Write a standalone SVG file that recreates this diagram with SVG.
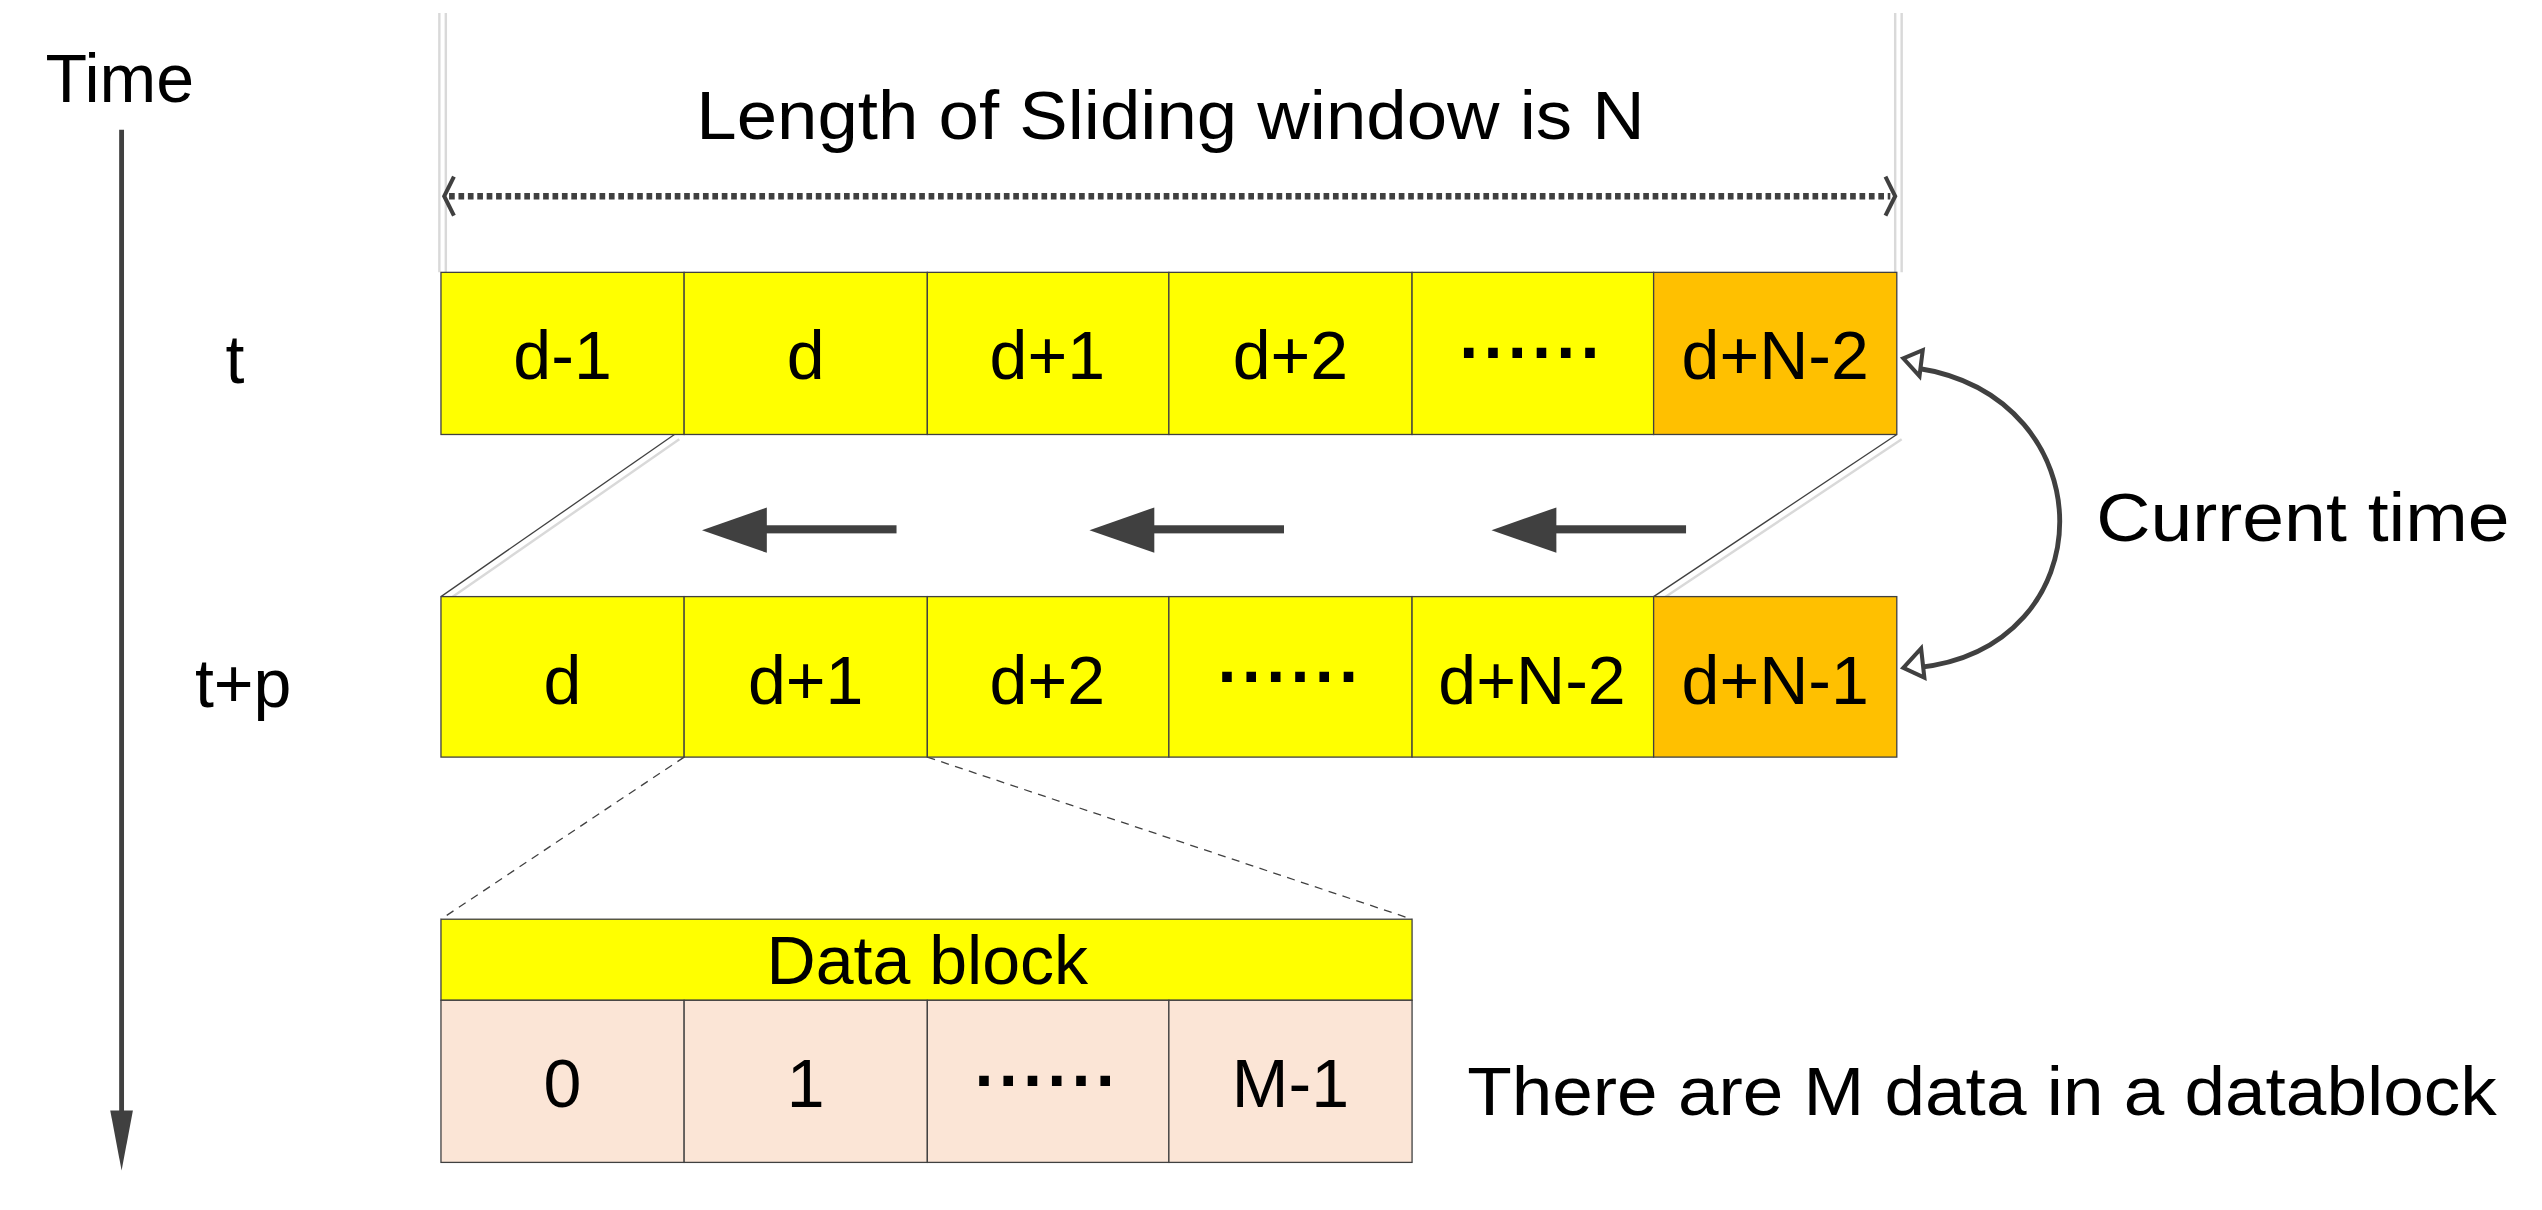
<svg xmlns="http://www.w3.org/2000/svg" width="2542" height="1210" viewBox="0 0 2542 1210">
<style>
text{font-family:"Liberation Sans",Arial,sans-serif;font-size:42px;fill:#000}
.c{text-anchor:middle}
.dots{font-weight:bold;letter-spacing:1px}
.y{fill:#FFFF00;stroke:#404040;stroke-width:0.8}
.o{fill:#FFC000;stroke:#404040;stroke-width:0.8}
.p{fill:#FBE5D6;stroke:#404040;stroke-width:0.8}
.thin{stroke:#404040;stroke-width:0.8;fill:none}
.gray{stroke:#d9d9d9;stroke-width:1.5;fill:none}
</style>
<g transform="scale(1.6212)">
<g id="connectors">
<line x1="75" y1="80" x2="75" y2="690" stroke="#404040" stroke-width="3"/>
<path d="M75,722 L68,685 L82,685 z" fill="#404040"/>
<line class="gray" x1="271" y1="8" x2="271" y2="168"/><line class="gray" x1="275" y1="8" x2="275" y2="168"/>
<line class="gray" x1="1169" y1="8" x2="1169" y2="168"/><line class="gray" x1="1173" y1="8" x2="1173" y2="168"/>
<line x1="277" y1="121" x2="1166" y2="121" stroke="#404040" stroke-width="4" stroke-dasharray="3.5,2.3"/>
<path d="M280,109 L274,121 L280,133" fill="none" stroke="#404040" stroke-width="2.5"/>
<path d="M1163,109 L1169,121 L1163,133" fill="none" stroke="#404040" stroke-width="2.5"/>
<line class="thin" x1="416" y1="268" x2="272" y2="368"/><line class="gray" x1="419" y1="271" x2="275" y2="371"/>
<line class="thin" x1="1170" y1="268" x2="1020" y2="368"/><line class="gray" x1="1173" y1="271" x2="1023" y2="371"/>
<g fill="#404040">
<rect x="470" y="324" width="83" height="5"/><path d="M433,327 L473,313 L473,341 z"/>
<rect x="709" y="324" width="83" height="5"/><path d="M672,327 L712,313 L712,341 z"/>
<rect x="957" y="324" width="83" height="5"/><path d="M920,327 L960,313 L960,341 z"/>
</g>
<path d="M1182,227 C1300,245 1300,400 1182,412" fill="none" stroke="#404040" stroke-width="3"/>
<path d="M1174,221 L1186,216 L1184,232 z" fill="#fff" stroke="#404040" stroke-width="2.5"/>
<path d="M1174,412 L1185,400 L1187,418 z" fill="#fff" stroke="#404040" stroke-width="2.5"/>
<line class="thin" x1="422" y1="467" x2="272" y2="567" stroke-dasharray="5,4"/>
<line class="thin" x1="572" y1="467" x2="871" y2="567" stroke-dasharray="5,4"/>
</g>
<text x="28" y="63">Time</text>
<text class="c" x="145" y="236">t</text>
<text class="c" x="150" y="436">t+p</text>
<text class="c" x="722" y="86" textLength="585" lengthAdjust="spacingAndGlyphs">Length of Sliding window is N</text>
<text x="1293" y="334" textLength="255" lengthAdjust="spacingAndGlyphs">Current time</text>
<text x="905" y="688" textLength="635" lengthAdjust="spacingAndGlyphs">There are M data in a datablock</text>
<g id="row-t">
<rect class="y" x="272" y="168" width="150" height="100"/><text class="c" x="347" y="234">d-1</text>
<rect class="y" x="422" y="168" width="150" height="100"/><text class="c" x="497" y="234">d</text>
<rect class="y" x="572" y="168" width="149" height="100"/><text class="c" x="646" y="234">d+1</text>
<rect class="y" x="721" y="168" width="150" height="100"/><text class="c" x="796" y="234">d+2</text>
<rect class="y" x="871" y="168" width="149" height="100"/><text class="c dots" x="945" y="232">······</text>
<rect class="o" x="1020" y="168" width="150" height="100"/><text class="c" x="1095" y="234">d+N-2</text>
</g>
<g id="row-tp">
<rect class="y" x="272" y="368" width="150" height="99"/><text class="c" x="347" y="434">d</text>
<rect class="y" x="422" y="368" width="150" height="99"/><text class="c" x="497" y="434">d+1</text>
<rect class="y" x="572" y="368" width="149" height="99"/><text class="c" x="646" y="434">d+2</text>
<rect class="y" x="721" y="368" width="150" height="99"/><text class="c dots" x="796" y="432">······</text>
<rect class="y" x="871" y="368" width="149" height="99"/><text class="c" x="945" y="434">d+N-2</text>
<rect class="o" x="1020" y="368" width="150" height="99"/><text class="c" x="1095" y="434">d+N-1</text>
</g>
<g id="datablock">
<rect class="y" x="272" y="567" width="599" height="50"/><text class="c" x="572" y="607">Data block</text>
<rect class="p" x="272" y="617" width="150" height="100"/><text class="c" x="347" y="683">0</text>
<rect class="p" x="422" y="617" width="150" height="100"/><text class="c" x="497" y="683">1</text>
<rect class="p" x="572" y="617" width="149" height="100"/><text class="c dots" x="646" y="681">······</text>
<rect class="p" x="721" y="617" width="150" height="100"/><text class="c" x="796" y="683">M-1</text>
</g>
</g>
</svg>
